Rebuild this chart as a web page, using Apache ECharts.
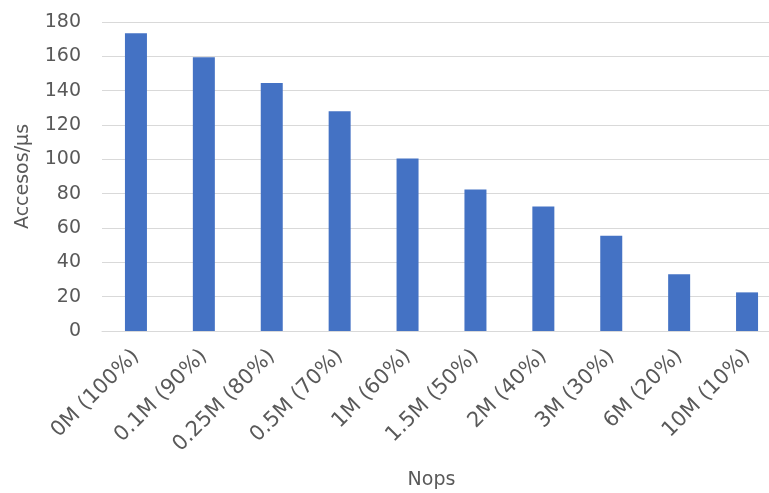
<!DOCTYPE html>
<html>
<head>
<meta charset="utf-8">
<script src="https://cdn.jsdelivr.net/npm/echarts@6/dist/echarts.min.js"></script>
<style>
  html, body { margin: 0; padding: 0; background: #fff; }
  #chart { width: 769px; height: 493px; }
</style>
</head>
<body>
<div id="chart"></div>
<script>
// Access throughput for each number of no-op operations
const categories = ['0M (100%)', '0.1M (90%)', '0.25M (80%)', '0.5M (70%)', '1M (60%)',
                    '1.5M (50%)', '2M (40%)', '3M (30%)', '6M (20%)', '10M (10%)'];
const accesses = [173.5, 159.5, 144.5, 128, 100.5, 82.5, 72.5, 55.5, 33, 22.5];
const yTicks = { min: 0, max: 180, interval: 20 };

const font = 'DejaVu Sans';
const textColor = '#595959';

const chart = echarts.init(document.getElementById('chart'));
chart.setOption({
  animation: false,
  grid: { left: 102, right: -12, top: 22, bottom: 162, outerBoundsMode: 'none', containLabel: false },
  xAxis: {
    type: 'category',
    data: categories,
    name: 'Nops',
    nameLocation: 'middle',
    nameGap: 140,
    nameTextStyle: { fontFamily: font, fontSize: 19, color: textColor, padding: [0, 20, 0, 0] },
    axisLine: { lineStyle: { color: '#d9d9d9' } },
    axisTick: { show: false },
    axisLabel: { rotate: 45, fontFamily: font, fontSize: 21, color: textColor, margin: 22, interval: 0 }
  },
  yAxis: {
    type: 'value',
    min: yTicks.min,
    max: yTicks.max,
    interval: yTicks.interval,
    name: 'Accesos/μs',
    nameLocation: 'middle',
    nameGap: 69,
    nameTextStyle: { fontFamily: font, fontSize: 19, color: textColor },
    axisLabel: { fontFamily: font, fontSize: 19, color: textColor, margin: 21 },
    splitLine: { lineStyle: { color: '#d9d9d9', width: 1 } }
  },
  series: [{
    type: 'bar',
    data: accesses,
    barWidth: 22,
    itemStyle: { color: '#4472c4' }
  }]
});
</script>
</body>
</html>
